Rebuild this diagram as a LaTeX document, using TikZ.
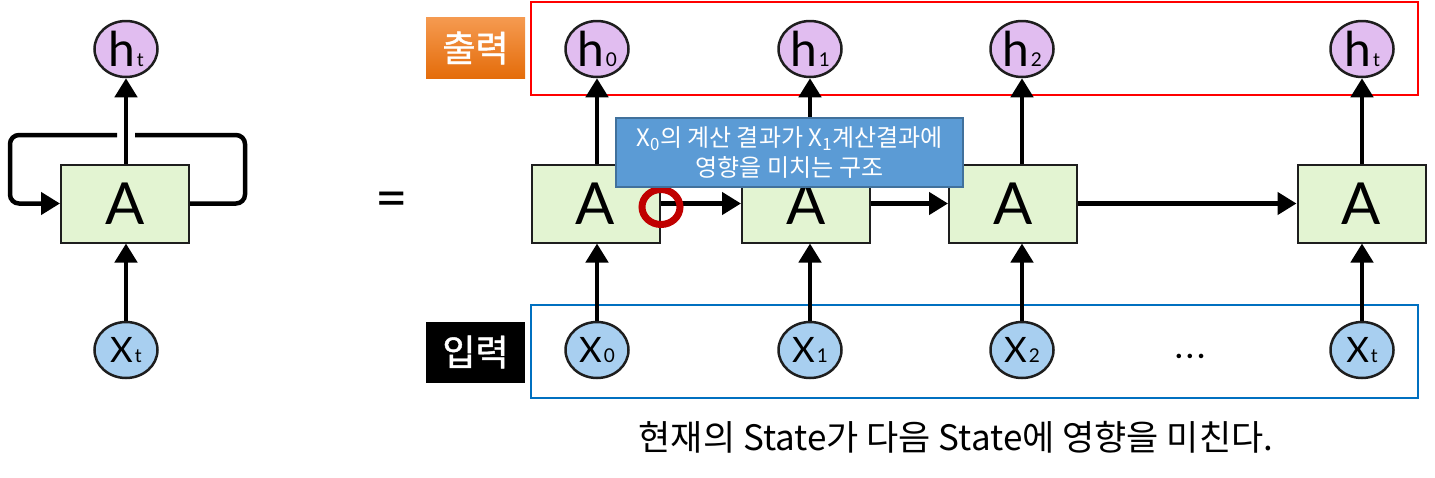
\documentclass[tikz,border=0pt]{standalone}
\usepackage{fontspec}
\setmainfont{Lato}
\newfontfamily\kr{Noto Sans CJK KR}
\newfontfamily\krb[FakeBold=1.2]{Noto Sans CJK KR}
\usetikzlibrary{shapes.geometric,arrows.meta}
\definecolor{hfill}{HTML}{E1BDF0}
\definecolor{xfill}{HTML}{A8CFF0}
\definecolor{afill}{HTML}{E3F4D2}
\definecolor{edge}{HTML}{1E1E1E}
\definecolor{redbox}{HTML}{FF0000}
\definecolor{bluebox}{HTML}{0070C0}
\definecolor{redc}{HTML}{C00000}
\definecolor{callfill}{HTML}{5B9BD5}
\definecolor{callborder}{HTML}{41719C}
\definecolor{orgtop}{HTML}{F59A50}
\definecolor{orgbot}{HTML}{E46C0A}
\begin{document}
\begin{tikzpicture}[x=1pt,y=-1pt,
  hnode/.style={ellipse,draw=edge,line width=2.5pt,fill=hfill,minimum width=63pt,minimum height=56pt,inner sep=0pt,font=\fontsize{48}{48}\selectfont},
  xnode/.style={hnode,fill=xfill,font=\fontsize{35}{35}\selectfont},
  anode/.style={rectangle,draw=edge,line width=2pt,fill=afill,minimum width=128pt,minimum height=78pt,inner sep=0pt,font=\fontsize{58}{58}\selectfont},
  ar/.style={line width=4.5pt,draw=black,-{Triangle[length=19pt,width=22pt]}},
  loopline/.style={line width=4.5pt,draw=black,rounded corners=9pt},
  tag/.style={rectangle,minimum width=99pt,minimum height=61pt,inner sep=0pt,text=white,font=\krb\fontsize{36}{36}\selectfont}
]
\useasboundingbox (0,0) rectangle (1435,477);
\newcommand{\sbs}[1]{\hspace{2pt}{\fontsize{19}{19}\selectfont #1}}

% ---- left folded RNN ----
\node[hnode] (hL) at (126,49) {h\sbs{t}};
\node[anode] (AL) at (125,203.5) {A};
\node[xnode] (xL) at (126,350) {X\sbs{t}};
\draw[ar] (hL |- AL.north) -- (hL);
\draw[ar] (xL) -- (xL |- AL.south);
\coordinate (gapR) at (135,135);
\coordinate (gapL) at (117,135);
\draw[loopline] (AL.east) -- (245,203.5) -- (245,135) -- (gapR);
\draw[loopline,-{Triangle[length=19pt,width=22pt]}] (gapL) -- (10,135) -- (10,203.5) -- (AL.west);

\node[font=\fontsize{56}{56}\selectfont] (eq) at (392,205) {=};

% ---- unrolled ----
\draw[redbox,line width=1.6pt] (531,2) rectangle (1418,95);
\draw[bluebox,line width=1.6pt] (531,305) rectangle (1418,398);

\node[tag,top color=orgtop,bottom color=orgbot] (out) at (475.5,48) {출력};
\node[tag,fill=black] (in) at (475.5,352) {입력};

\node[hnode] (h0) at (597,49) {h\sbs{0}};
\node[hnode] (h1) at (810,49) {h\sbs{1}};
\node[hnode] (h2) at (1022,49) {h\sbs{2}};
\node[hnode] (ht) at (1362,49) {h\sbs{t}};

\node[anode] (A0) at (595.5,203.5) {A};
\node[anode] (A1) at (806,203.5) {A};
\node[anode] (A2) at (1013,203.5) {A};
\node[anode] (At) at (1361.5,203.5) {A};

\node[xnode] (x0) at (597,350) {X\sbs{0}};
\node[xnode] (x1) at (810,350) {X\sbs{1}};
\node[xnode] (x2) at (1022,350) {X\sbs{2}};
\node[xnode] (xt) at (1362,350) {X\sbs{t}};

\node[font=\bfseries\fontsize{30}{30}\selectfont] (dots) at (1190,356) {.\hspace{4pt}.\hspace{4pt}.};

\foreach \i in {0,1,2,t}{
  \draw[ar] (A\i.north -| h\i) -- (h\i);
  \draw[ar] (x\i) -- (x\i |- A\i.south);
}
\draw[ar] (A0.east) -- (A1.west);
\draw[ar] (A1.east) -- (A2.west);
\draw[ar] (A2.east) -- (At.west);

\node[ellipse,draw=redc,line width=7pt,minimum width=38pt,minimum height=35pt,inner sep=0pt] (rc) at (661,207) {};

\node[rectangle,fill=callfill,draw=callborder,line width=1.5pt,minimum width=347pt,minimum height=69pt,inner sep=0pt,align=center,text=white,font=\kr\fontsize{24}{30}\selectfont] (call) at (789.5,152.5)
  {X\textsubscript{0}의 계산 결과가 X\textsubscript{1}계산결과에\\영향을 미치는 구조};

\node[font=\kr\fontsize{35}{35}\selectfont] (cap) at (956,437) {현재의 State가 다음 State에 영향을 미친다.};
\end{tikzpicture}
\end{document}
